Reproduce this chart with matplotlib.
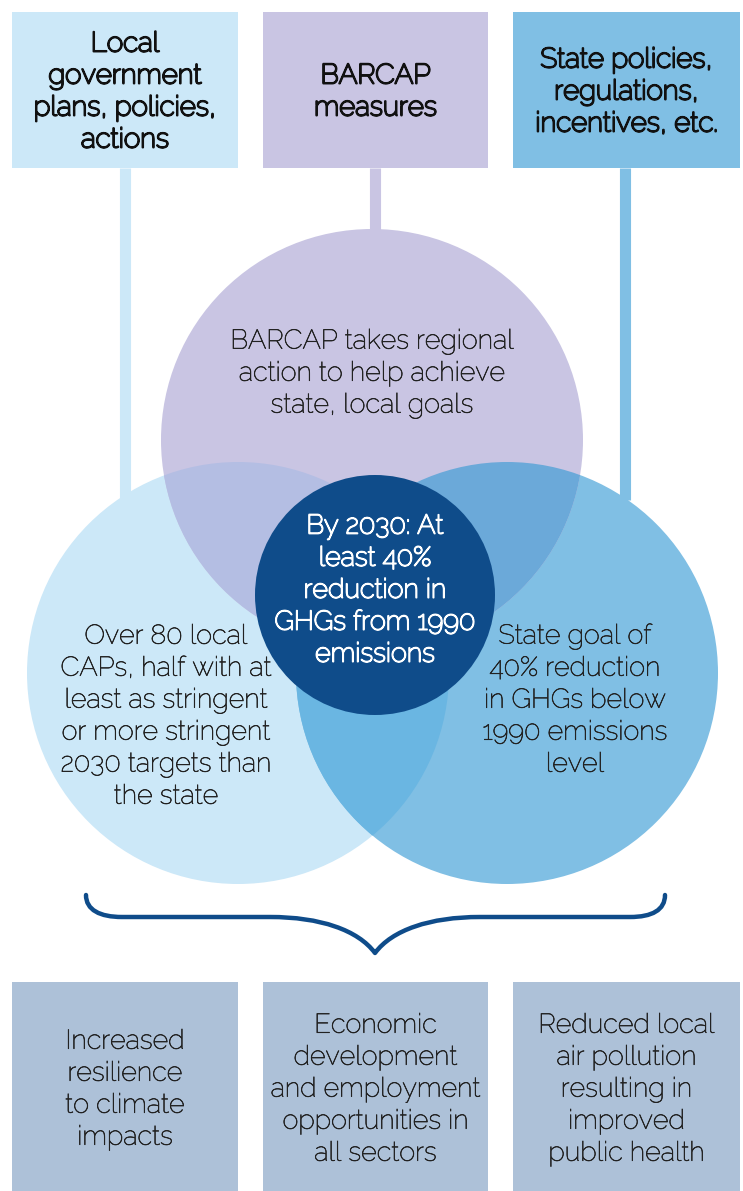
import matplotlib.pyplot as plt
from matplotlib.patches import Circle, Rectangle, PathPatch
from matplotlib.path import Path
from matplotlib import patheffects as pe

# text content
top_labels = ["Local\ngovernment\nplans, policies,\nactions",
              "BARCAP\nmeasures",
              "State policies,\nregulations,\nincentives, etc."]
bottom_labels = ["Increased\nresilience\nto climate\nimpacts",
                 "Economic\ndevelopment\nand employment\nopportunities in\nall sectors",
                 "Reduced local\nair pollution\nresulting in\nimproved\npublic health"]
purple_text = "BARCAP takes regional\naction to help achieve\nstate, local goals"
left_text = "Over 80 local\nCAPs, half with at\nleast as stringent\nor more stringent\n2030 targets than\nthe state"
right_text = "State goal of\n40% reduction\nin GHGs below\n1990 emissions\nlevel"
center_text = "By 2030: At\nleast 40%\nreduction in\nGHGs from 1990\nemissions"

# colours
c_light = "#CCE8F8"
c_purple = "#C9C5E3"
c_mid = "#80BFE4"
c_dark = "#0F4C8A"
c_bottom = "#ADC1D8"
c_lp = "#B4BEE3"
c_lm = "#6AB6E2"
c_pm = "#6BA9D9"

FONT = ["Raleway", "Lato", "DejaVu Sans"]

W, H = 743, 1191
fig = plt.figure(figsize=(W / 100, H / 100), dpi=100)
ax = fig.add_axes([0, 0, 1, 1])
ax.set_xlim(0, W)
ax.set_ylim(H, 0)
ax.axis("off")

LS = 32  # line step in px


def lines(x, yc, text, color="#222222", size=19.5, thick=0.45):
    rows = text.split("\n")
    y0 = yc - (len(rows) - 1) * LS / 2
    for i, r in enumerate(rows):
        ax.text(x, y0 + i * LS, r, ha="center", va="center", color=color,
                fontsize=size, family=FONT, zorder=10,
                path_effects=[pe.withStroke(linewidth=thick, foreground=color)])


cols_x = [(12, 238), (263, 488), (513, 740)]
top_fill = [c_light, c_purple, c_mid]

# connectors
ax.plot([125, 125], [168, 500], color=c_light, lw=8, solid_capstyle="butt", zorder=1)
ax.plot([375, 375], [168, 240], color=c_purple, lw=8, solid_capstyle="butt", zorder=1)
ax.plot([625, 625], [168, 500], color=c_mid, lw=8, solid_capstyle="butt", zorder=1)

# top boxes
for (x0, x1), fc, lab in zip(cols_x, top_fill, top_labels):
    ax.add_patch(Rectangle((x0, 12), x1 - x0, 156, fc=fc, ec="none", zorder=2))
    lines((x0 + x1) / 2, 92, lab, color="#111111", size=20, thick=1.4)

# circles
R = 211
left_c = (238, 673)
right_c = (507, 673)
purple_c = (372, 440)
for ctr, col in [(left_c, c_light), (right_c, c_mid), (purple_c, c_purple)]:
    ax.add_patch(Circle(ctr, R, fc=col, ec="none", zorder=3))

# overlaps
for a, b, col in [(left_c, purple_c, c_lp), (left_c, right_c, c_lm), (purple_c, right_c, c_pm)]:
    clip = Circle(b, R, transform=ax.transData)
    ov = Circle(a, R, fc=col, ec="none", zorder=4)
    ax.add_patch(ov)
    ov.set_clip_path(clip)

ax.add_patch(Circle((375, 595), 120, fc=c_dark, ec="none", zorder=5))

lines(372, 374, purple_text)
lines(166, 717, left_text)
lines(575, 701, right_text)
lines(375, 591, center_text, color="white", size=19.5, thick=1.1)

# brace
verts = [(86, 895), (86, 910), (100, 917), (122, 917),
         (270, 917),
         (320, 917), (358, 930), (375, 953),
         (392, 930), (430, 917), (480, 917),
         (630, 917),
         (652, 917), (665, 910), (665, 895)]
codes = [Path.MOVETO, Path.CURVE4, Path.CURVE4, Path.CURVE4,
         Path.LINETO,
         Path.CURVE4, Path.CURVE4, Path.CURVE4,
         Path.CURVE4, Path.CURVE4, Path.CURVE4,
         Path.LINETO,
         Path.CURVE4, Path.CURVE4, Path.CURVE4]
ax.add_patch(PathPatch(Path(verts, codes), fc="none", ec=c_dark, lw=3.2,
                       capstyle="round", joinstyle="round", zorder=6))

# bottom boxes
for (x0, x1), lab in zip(cols_x, bottom_labels):
    ax.add_patch(Rectangle((x0, 982), x1 - x0, 209, fc=c_bottom, ec="none", zorder=2))
    lines((x0 + x1) / 2, 1090, lab)

fig.savefig("out.png", dpi=100)
